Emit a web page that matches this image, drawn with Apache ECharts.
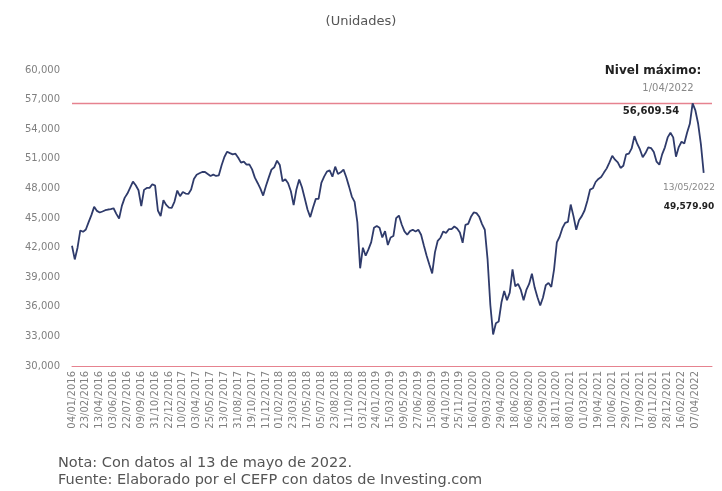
<!DOCTYPE html>
<html>
<head>
<meta charset="utf-8">
<script src="https://cdn.jsdelivr.net/npm/echarts@6/dist/echarts.min.js"></script>
<style>html,body{margin:0;padding:0;background:#fff;}#c{width:722px;height:491px;}</style>
</head>
<body>
<div id="c"></div>
<script>
const dateLabels = [
  '04/01/2016','23/02/2016','13/04/2016','03/06/2016','22/07/2016','09/09/2016','31/10/2016','22/12/2016','10/02/2017','03/04/2017',
  '25/05/2017','13/07/2017','31/08/2017','19/10/2017','11/12/2017','01/02/2018','23/03/2018','17/05/2018','05/07/2018','23/08/2018',
  '11/10/2018','03/12/2018','24/01/2019','15/03/2019','09/05/2019','27/06/2019','15/08/2019','04/10/2019','25/11/2019','16/01/2020',
  '09/03/2020','29/04/2020','18/06/2020','06/08/2020','25/09/2020','18/11/2020','08/01/2021','01/03/2021','19/04/2021','10/06/2021',
  '29/07/2021','17/09/2021','08/11/2021','28/12/2021','16/02/2022','07/04/2022'
];
const pointsPerLabel = 5;
const extraSlots = 3;
const indexValues = [
  42190,40800,41990,43740,43600,43840,44580,45290,46130,45720,
  45560,45660,45790,45860,45890,45990,45420,44950,46230,47040,
  47480,48080,48690,48320,47810,46200,47850,48050,48050,48420,
  48280,45760,45190,46800,46330,46060,46030,46670,47780,47210,
  47640,47480,47440,47880,48960,49390,49530,49660,49660,49460,
  49260,49390,49260,49330,50340,51180,51720,51580,51450,51520,
  51110,50610,50710,50400,50440,49930,49090,48550,47980,47270,
  48250,49090,49900,50140,50810,50370,48720,48920,48520,47710,
  46300,47900,48890,48120,47000,45860,45090,46060,46940,46940,
  48550,49190,49700,49830,49190,50200,49460,49630,49900,49130,
  48180,47170,46630,44550,39900,41990,41180,41820,42560,44010,
  44180,44010,43030,43670,42260,43030,43170,44980,45250,44340,
  43640,43300,43670,43810,43640,43810,43300,42220,41180,40270,
  39390,41520,42690,43000,43640,43470,43870,43870,44140,43940,
  43540,42490,44310,44410,45120,45560,45490,45120,44380,43810,
  40800,36160,33200,34340,34510,36430,37610,36670,37440,39800,
  38080,38320,37710,36670,37710,38320,39360,37950,36970,36130,
  36940,38180,38420,38010,39800,42530,43100,43970,44510,44610,
  46360,45190,43810,44780,45190,45760,46730,47880,48010,48650,
  48960,49160,49600,50030,50640,51310,50910,50640,50070,50300,
  51450,51520,52050,53300,52530,51950,51150,51580,52160,52090,
  51680,50710,50400,51450,52160,53170,53640,53170,51210,52190,
  52730,52560,53640,54550,56609.54,55900,54550,52460,49579.90
];
const maxLevel = 56609.54;
const maxDate = '1/04/2022';
const lastDate = '13/05/2022';
const lastValue = 49579.90;

const categories = [];
for (let k = 0; k < indexValues.length + extraSlots; k++) {
  categories.push(k % pointsPerLabel === 0 && k / pointsPerLabel < dateLabels.length ? dateLabels[k / pointsPerLabel] : '');
}
const maxLine = [[0, maxLevel], [categories.length - 1, maxLevel]];
const fmt = v => v.toLocaleString('en-US', {minimumFractionDigits: 2, maximumFractionDigits: 2});
const FONT = 'DejaVu Sans';
const PINK = '#e6828f';

const chart = echarts.init(document.getElementById('c'), null, {renderer: 'canvas'});
chart.setOption({
  animation: false,
  backgroundColor: '#ffffff',
  title: {
    text: '(Unidades)', left: 'center', top: 10,
    textStyle: {fontSize: 13, fontWeight: 'normal', color: '#555', fontFamily: FONT}
  },
  grid: {left: 72, right: 10, top: 70, bottom: 125},
  xAxis: {
    type: 'category', data: categories, boundaryGap: false,
    axisLine: {lineStyle: {color: PINK, width: 1}},
    axisTick: {show: false},
    axisLabel: {
      rotate: 90, fontSize: 10, color: '#808080', margin: 5, fontFamily: FONT,
      interval: i => i % pointsPerLabel === 0 && categories[i] !== ''
    }
  },
  yAxis: {
    type: 'value', min: 30000, max: 60000, interval: 3000,
    axisLine: {show: false}, axisTick: {show: false}, splitLine: {show: false},
    axisLabel: {fontSize: 10, color: '#808080', margin: 12, fontFamily: FONT,
      formatter: v => v.toLocaleString('en-US')}
  },
  series: [
    {
      name: 'max', type: 'line', data: maxLine, z: 2, silent: true,
      showSymbol: false, symbol: 'none',
      lineStyle: {color: PINK, width: 1.4}, itemStyle: {color: PINK}
    },
    {
      type: 'line', data: indexValues, showSymbol: false, smooth: false, z: 3,
      lineStyle: {color: '#2f3b6b', width: 1.8},
      itemStyle: {color: '#2f3b6b'}
    }
  ],
  graphic: [
    {type: 'text', x: 653, y: 71, style: {text: 'Nivel máximo:', fontSize: 12, fontWeight: 'bold', fill: '#222', align: 'center', verticalAlign: 'middle', fontFamily: FONT}},
    {type: 'text', x: 668, y: 88, style: {text: maxDate, fontSize: 10, fill: '#888', align: 'center', verticalAlign: 'middle', fontFamily: FONT}},
    {type: 'text', x: 651, y: 111, style: {text: fmt(maxLevel), fontSize: 10, fontWeight: 'bold', fill: '#222', align: 'center', verticalAlign: 'middle', fontFamily: FONT}},
    {type: 'text', x: 689, y: 188, style: {text: lastDate, fontSize: 9, fill: '#888', align: 'center', verticalAlign: 'middle', fontFamily: FONT}},
    {type: 'text', x: 689, y: 207, style: {text: fmt(lastValue), fontSize: 9, fontWeight: 'bold', fill: '#222', align: 'center', verticalAlign: 'middle', fontFamily: FONT}},
    {type: 'text', x: 58, y: 463, style: {text: 'Nota: Con datos al 13 de mayo de 2022.', fontSize: 14.5, fill: '#555', verticalAlign: 'middle', fontFamily: FONT}},
    {type: 'text', x: 58, y: 480, style: {text: 'Fuente: Elaborado por el CEFP con datos de Investing.com', fontSize: 14.5, fill: '#555', verticalAlign: 'middle', fontFamily: FONT}}
  ]
});
</script>
</body>
</html>
